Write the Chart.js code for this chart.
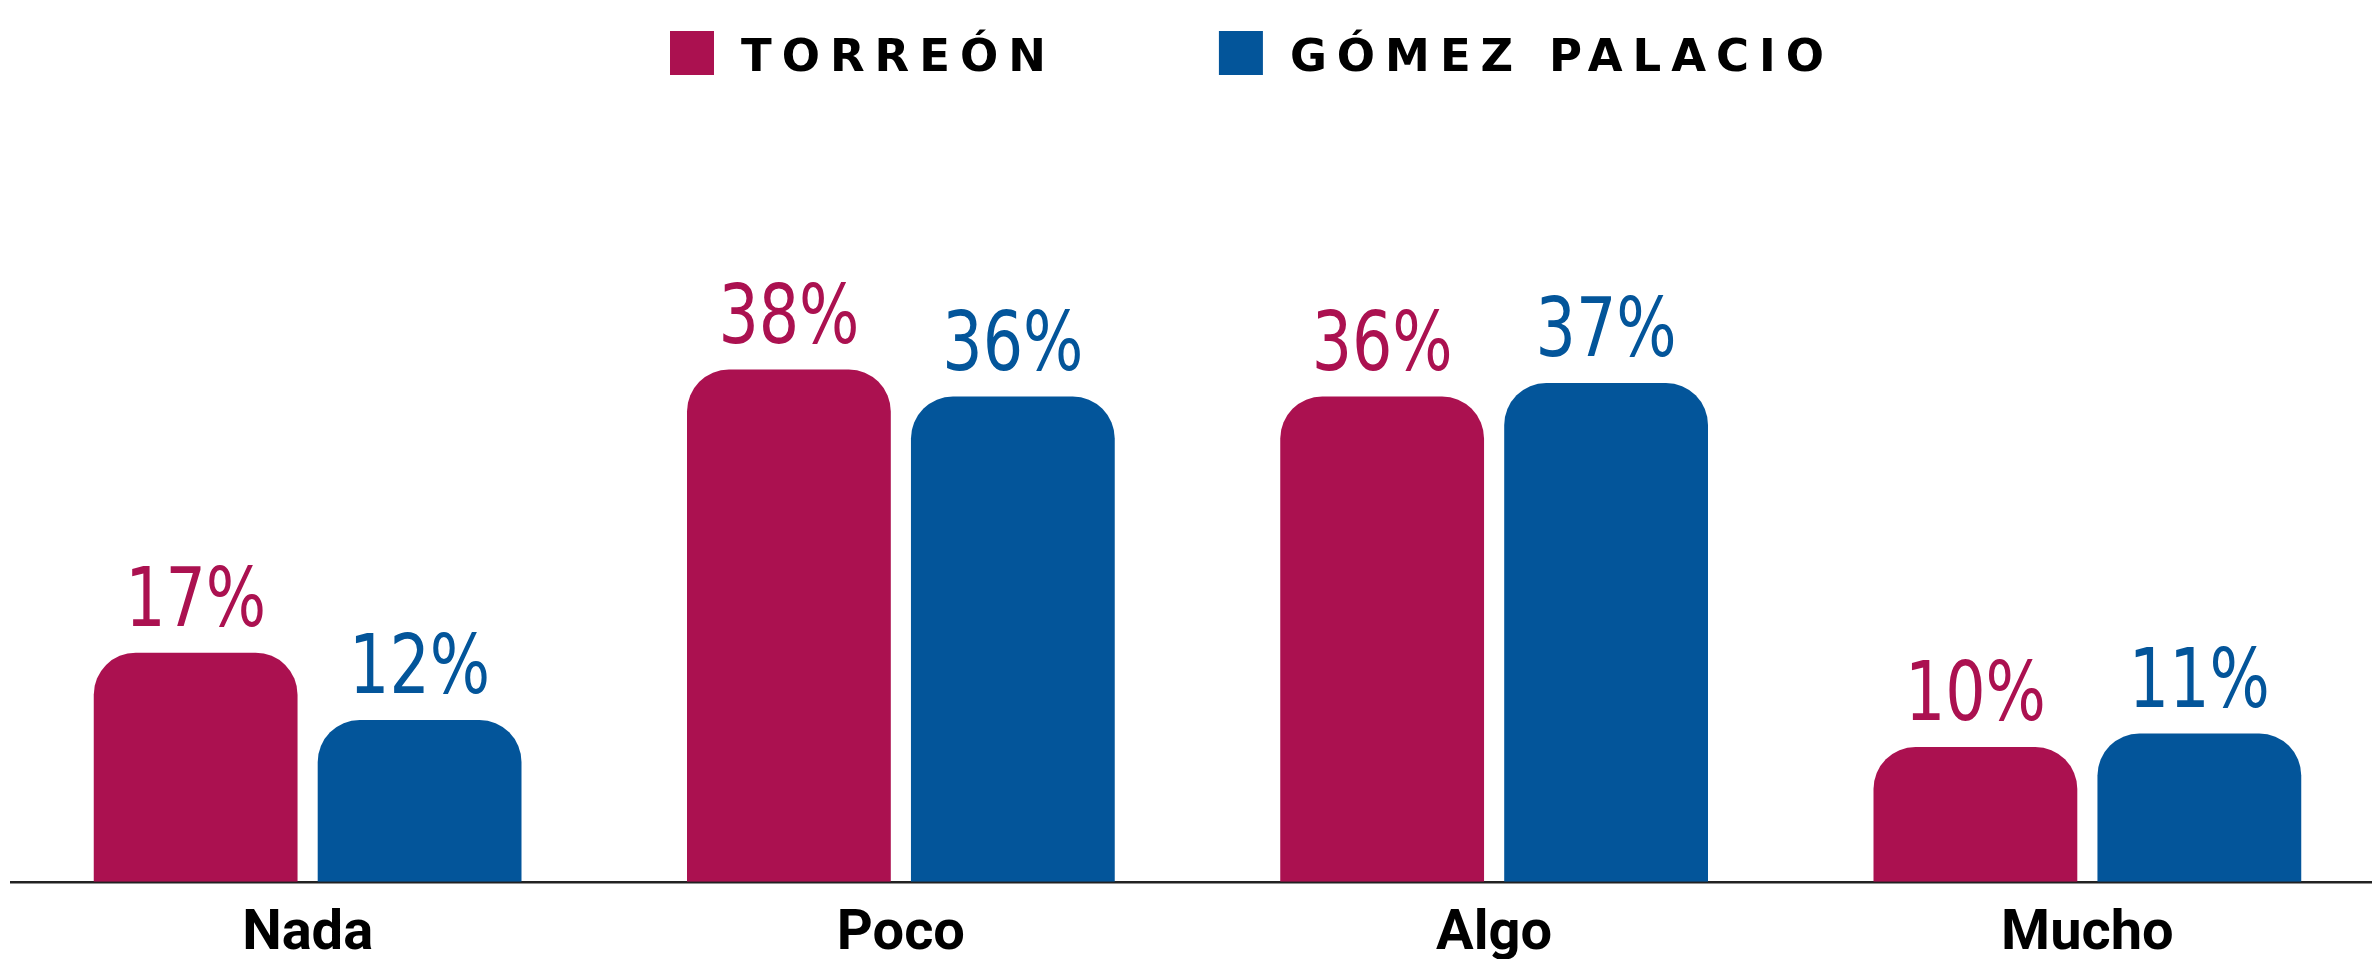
<!DOCTYPE html>
<html>
<head>
<meta charset="utf-8">
<script src="https://cdn.jsdelivr.net/npm/chart.js@4.4.1/dist/chart.umd.min.js"></script>
<style>
  html, body { margin: 0; padding: 0; background: #ffffff; overflow: hidden; }
  #wrap { width: 2372px; height: 959px; overflow: hidden; }
</style>
</head>
<body>
<div id="wrap"><canvas id="c" width="2390" height="989"></canvas></div>
<script>
const categories = ["Nada", "Poco", "Algo", "Mucho"];
const seriesNames = ["TORREÓN", "GÓMEZ PALACIO"];
const torreon = [17, 38, 36, 10];
const gomezPalacio = [12, 36, 37, 11];
const seriesColors = ["#AB1150", "#03559A"];

const valueLabels = {
  id: 'valueLabels',
  afterDatasetsDraw(chart) {
    const ctx = chart.ctx;
    chart.data.datasets.forEach((ds, i) => {
      const meta = chart.getDatasetMeta(i);
      meta.data.forEach((el, j) => {
        ctx.save();
        ctx.font = '82px "DejaVu Sans Condensed", "DejaVu Sans", sans-serif';
        ctx.textAlign = 'center';
        ctx.textBaseline = 'alphabetic';
        ctx.fillStyle = ds.backgroundColor;
        ctx.translate(el.x, el.y - 27);
        ctx.scale(0.86, 1);
        ctx.fillText(ds.data[j] + '%', 0, 0);
        ctx.restore();
      });
    });
  }
};

const topLegend = {
  id: 'topLegend',
  afterDraw(chart, args, opts) {
    const ctx = chart.ctx;
    ctx.save();
    ctx.font = 'bold 45px "DejaVu Sans", sans-serif';
    ctx.letterSpacing = opts.letterSpacing;
    ctx.textBaseline = 'alphabetic';
    ctx.textAlign = 'left';
    let x = opts.startX;
    chart.data.datasets.forEach((ds) => {
      ctx.fillStyle = ds.backgroundColor;
      ctx.fillRect(x, opts.boxTop, opts.boxSize, opts.boxSize);
      x += opts.boxSize + opts.textGap;
      ctx.fillStyle = '#000000';
      ctx.fillText(ds.label, x, opts.baseline);
      x += ctx.measureText(ds.label).width + opts.itemGap;
    });
    ctx.restore();
  }
};

new Chart(document.getElementById('c'), {
  type: 'bar',
  data: {
    labels: categories,
    datasets: [
      { label: seriesNames[0], data: torreon, backgroundColor: seriesColors[0] },
      { label: seriesNames[1], data: gomezPalacio, backgroundColor: seriesColors[1] }
    ]
  },
  options: {
    responsive: false,
    animation: false,
    devicePixelRatio: 1,
    layout: { padding: { left: 11, right: 6, top: 73, bottom: 0 } },
    datasets: {
      bar: {
        categoryPercentage: 0.755,
        barPercentage: 0.91,
        borderRadius: 42,
        borderSkipped: 'start'
      }
    },
    scales: {
      x: {
        grid: { display: false, drawTicks: false },
        border: { display: true, color: '#222222', width: 2.5 },
        ticks: {
          color: '#000000',
          padding: 20,
          font: { family: 'Roboto', size: 56, weight: 'bold' }
        }
      },
      y: { display: false, min: 0, max: 60 }
    },
    plugins: {
      legend: { display: false },
      tooltip: { enabled: false },
      topLegend: {
        startX: 670, boxTop: 31, boxSize: 44, textGap: 27, itemGap: 163,
        baseline: 71, letterSpacing: '10px'
      }
    }
  },
  plugins: [valueLabels, topLegend]
});
</script>
</body>
</html>
